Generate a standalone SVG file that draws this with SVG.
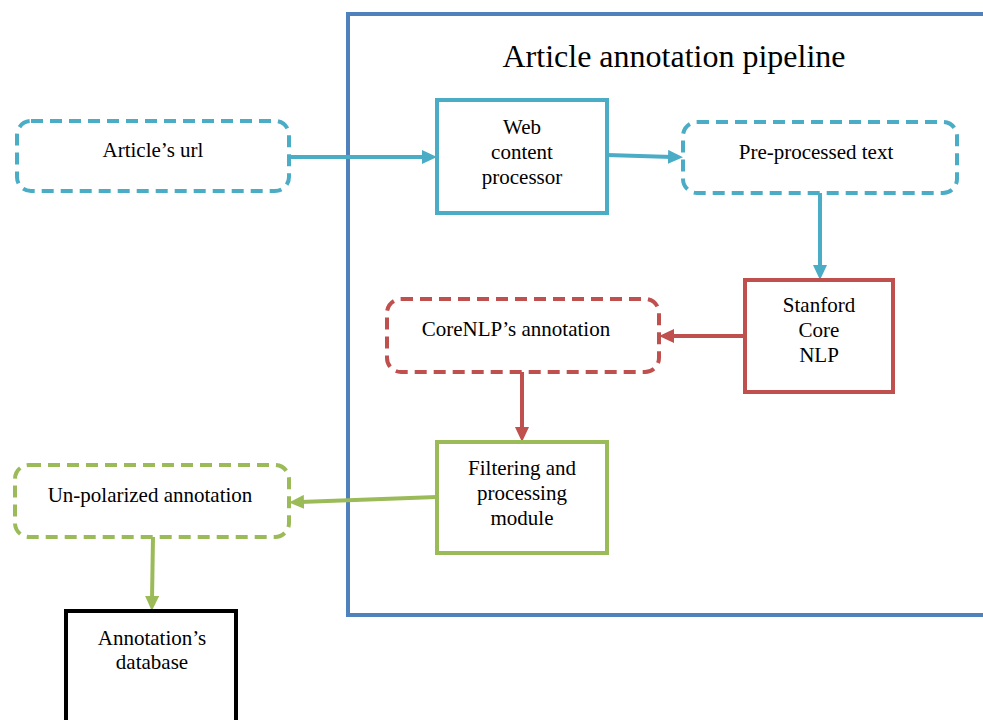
<svg xmlns="http://www.w3.org/2000/svg" width="983" height="720" viewBox="0 0 983 720" font-family="'Liberation Serif', 'DejaVu Serif', serif">
<defs>
<style>
text{font-family:'Liberation Serif','DejaVu Serif',serif;font-size:21px;fill:#000;text-anchor:middle}
.title{font-size:32px}
.dash{fill:#fff;stroke-width:4;stroke-dasharray:12 7}
.solid{fill:#fff;stroke-width:4}
.cy{stroke:#4BACC6}
.rd{stroke:#C0504D}
.gr{stroke:#9BBB59}
.conn{fill:none;stroke-width:4}
</style>
<marker id="aC" markerUnits="userSpaceOnUse" markerWidth="15" markerHeight="14" refX="4" refY="7" orient="auto"><path d="M0,0 L15,7 L0,14 z" fill="#4BACC6"/></marker>
<marker id="aR" markerUnits="userSpaceOnUse" markerWidth="15" markerHeight="14" refX="4" refY="7" orient="auto"><path d="M0,0 L15,7 L0,14 z" fill="#C0504D"/></marker>
<marker id="aG" markerUnits="userSpaceOnUse" markerWidth="15" markerHeight="14" refX="4" refY="7" orient="auto"><path d="M0,0 L15,7 L0,14 z" fill="#9BBB59"/></marker>
</defs>
<rect width="983" height="720" fill="#fff"/>
<g id="pipeline">
<rect x="348" y="14" width="660" height="601" fill="none" stroke="#4F81BD" stroke-width="4"/>
<text class="title" x="674" y="67">Article annotation pipeline</text>
</g>
<g id="connectors">
<path class="conn cy" d="M289,157 L426,157" marker-end="url(#aC)"/>
<path class="conn cy" d="M607,155 L672,157" marker-end="url(#aC)"/>
<path class="conn cy" d="M820,193 L820,269" marker-end="url(#aC)"/>
<path class="conn rd" d="M745,336 L670,336" marker-end="url(#aR)"/>
<path class="conn rd" d="M522,372 L522,431" marker-end="url(#aR)"/>
<path class="conn gr" d="M437,497 L300,502" marker-end="url(#aG)"/>
<path class="conn gr" d="M153,537 L152,600" marker-end="url(#aG)"/>
</g>
<g id="url">
<rect class="dash cy" x="17" y="121" width="272" height="70" rx="14"/>
<text x="153" y="157">Article’s url</text>
</g>
<g id="web">
<rect class="solid cy" x="437" y="100" width="170" height="113"/>
<text x="522" y="134">Web</text>
<text x="522" y="159">content</text>
<text x="522" y="184">processor</text>
</g>
<g id="pre">
<rect class="dash cy" x="683" y="122" width="274" height="71" rx="14"/>
<text x="816" y="159">Pre-processed text</text>
</g>
<g id="stanford">
<rect class="solid rd" x="745" y="280" width="148" height="112"/>
<text x="819" y="312">Stanford</text>
<text x="819" y="337">Core</text>
<text x="819" y="362">NLP</text>
</g>
<g id="corenlp">
<rect class="dash rd" x="387" y="299" width="272" height="73" rx="14"/>
<text x="516" y="336">CoreNLP’s annotation</text>
</g>
<g id="filter">
<rect class="solid gr" x="437" y="442" width="170" height="111"/>
<text x="522" y="475">Filtering and</text>
<text x="522" y="500">processing</text>
<text x="522" y="525">module</text>
</g>
<g id="unpol">
<rect class="dash gr" x="15" y="465" width="274" height="72" rx="14"/>
<text x="150" y="502">Un-polarized annotation</text>
</g>
<g id="db">
<rect x="66" y="611" width="170" height="120" fill="#fff" stroke="#000" stroke-width="4"/>
<text x="152" y="645">Annotation’s</text>
<text x="152" y="669">database</text>
</g>
</svg>
